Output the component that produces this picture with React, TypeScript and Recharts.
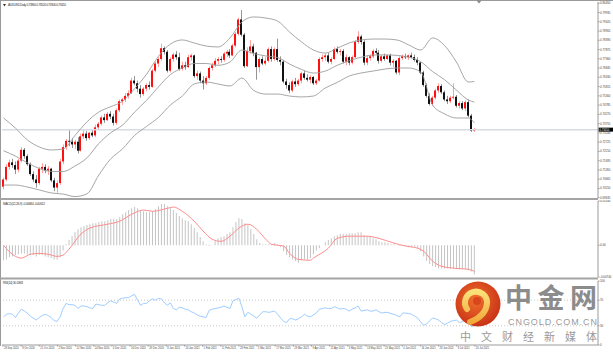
import React from "react";
import { ComposedChart, Bar, Line, XAxis, YAxis, ReferenceLine } from "recharts";

const FONT = '"Liberation Sans", "DejaVu Sans", sans-serif';
const PIP = 10000;

// AUDUSD daily candles, prices in pips (0.0001)
const OPEN = [
  7025, 7065, 7135, 7160, 7145, 7120, 7170, 7230, 7195, 7150, 7095, 7065, 7045, 7125, 7135, 7115, 7125, 7060, 7020, 7045,
  7165, 7245, 7280, 7275, 7260, 7275, 7225, 7305, 7320, 7295, 7325, 7310, 7355, 7375, 7410, 7395, 7430, 7415, 7380, 7450,
  7500, 7510, 7530, 7545, 7615, 7600, 7570, 7540, 7570, 7590, 7580, 7670, 7710, 7735, 7795, 7775, 7670, 7735, 7760, 7745,
  7680, 7700, 7690, 7745, 7755, 7640, 7655, 7615, 7600, 7630, 7685, 7700, 7725, 7735, 7730, 7765, 7775, 7755, 7810, 7875,
  7955, 7870, 7695, 7780, 7805, 7770, 7690, 7735, 7710, 7725, 7790, 7735, 7790, 7730, 7720, 7610, 7590, 7560, 7610, 7595,
  7615, 7655, 7630, 7620, 7635, 7600, 7615, 7735, 7745, 7755, 7720, 7735, 7790, 7775, 7780, 7720, 7745, 7715, 7745, 7830,
  7860, 7830, 7715, 7740, 7750, 7780, 7770, 7725, 7750, 7735, 7755, 7715, 7725, 7660, 7740, 7750, 7745, 7755, 7745, 7730,
  7715, 7660, 7590, 7530, 7485, 7520, 7560, 7585, 7550, 7510, 7500, 7520, 7525, 7475, 7490, 7460, 7495, 7420, 7336,
];
const HIGH = [
  7075, 7150, 7175, 7180, 7165, 7180, 7245, 7240, 7205, 7160, 7110, 7090, 7135, 7155, 7150, 7140, 7130, 7075, 7060, 7180,
  7260, 7290, 7340, 7295, 7285, 7300, 7320, 7340, 7335, 7330, 7345, 7370, 7385, 7420, 7430, 7440, 7445, 7430, 7460, 7510,
  7520, 7545, 7560, 7630, 7640, 7615, 7590, 7580, 7600, 7610, 7680, 7720, 7745, 7820, 7805, 7785, 7745, 7770, 7780, 7770,
  7720, 7720, 7760, 7765, 7760, 7670, 7665, 7640, 7640, 7695, 7715, 7740, 7745, 7750, 7775, 7785, 7790, 7820, 7885, 7965,
  8007, 7880, 7800, 7840, 7820, 7775, 7745, 7750, 7745, 7800, 7805, 7800, 7848, 7750, 7730, 7625, 7605, 7620, 7630, 7625,
  7665, 7670, 7650, 7645, 7640, 7625, 7745, 7760, 7765, 7770, 7745, 7800, 7805, 7790, 7790, 7760, 7750, 7755, 7840, 7890,
  7870, 7840, 7755, 7760, 7790, 7795, 7785, 7760, 7765, 7760, 7765, 7735, 7730, 7750, 7760, 7765, 7760, 7770, 7760, 7745,
  7720, 7670, 7600, 7545, 7530, 7570, 7600, 7595, 7560, 7530, 7530, 7600, 7535, 7500, 7500, 7505, 7510, 7430, 7352,
];
const LOW = [
  7010, 7055, 7120, 7130, 7095, 7105, 7160, 7180, 7140, 7085, 7050, 7020, 7035, 7100, 7100, 7090, 7050, 7000, 6991, 7035,
  7150, 7230, 7250, 7240, 7235, 7210, 7220, 7290, 7280, 7285, 7300, 7300, 7340, 7365, 7380, 7390, 7400, 7365, 7370, 7440,
  7480, 7495, 7515, 7540, 7590, 7550, 7520, 7530, 7555, 7565, 7575, 7660, 7690, 7725, 7760, 7660, 7660, 7720, 7730, 7670,
  7670, 7675, 7685, 7725, 7630, 7620, 7600, 7565, 7590, 7620, 7670, 7690, 7705, 7715, 7720, 7745, 7740, 7750, 7800, 7865,
  7860, 7685, 7690, 7765, 7750, 7620, 7660, 7700, 7700, 7715, 7720, 7725, 7720, 7700, 7600, 7570, 7545, 7550, 7580, 7585,
  7600, 7620, 7610, 7600, 7590, 7590, 7610, 7720, 7725, 7710, 7705, 7730, 7765, 7755, 7710, 7700, 7700, 7705, 7740, 7820,
  7815, 7700, 7700, 7725, 7740, 7760, 7710, 7715, 7725, 7730, 7700, 7690, 7650, 7645, 7730, 7735, 7730, 7740, 7720, 7700,
  7650, 7580, 7520, 7477, 7475, 7510, 7545, 7540, 7500, 7485, 7490, 7510, 7465, 7460, 7450, 7445, 7410, 7330, 7330,
];
const CLOSE = [
  7065, 7135, 7160, 7145, 7120, 7170, 7230, 7195, 7150, 7095, 7065, 7045, 7125, 7135, 7115, 7125, 7060, 7020, 7045, 7165,
  7245, 7280, 7275, 7260, 7275, 7225, 7305, 7320, 7295, 7325, 7310, 7355, 7375, 7410, 7395, 7430, 7415, 7380, 7450, 7500,
  7510, 7530, 7545, 7615, 7600, 7570, 7540, 7570, 7590, 7580, 7670, 7710, 7735, 7795, 7775, 7670, 7735, 7760, 7745, 7680,
  7700, 7690, 7745, 7755, 7640, 7655, 7615, 7600, 7630, 7685, 7700, 7725, 7735, 7730, 7765, 7775, 7755, 7810, 7875, 7955,
  7870, 7695, 7780, 7805, 7770, 7690, 7735, 7710, 7725, 7790, 7735, 7790, 7730, 7720, 7610, 7590, 7560, 7610, 7595, 7615,
  7655, 7630, 7620, 7635, 7600, 7615, 7735, 7745, 7755, 7720, 7735, 7790, 7775, 7780, 7720, 7745, 7715, 7745, 7830, 7860,
  7830, 7715, 7740, 7750, 7780, 7770, 7725, 7750, 7735, 7755, 7715, 7725, 7660, 7740, 7750, 7745, 7755, 7745, 7730, 7715,
  7660, 7590, 7530, 7485, 7520, 7560, 7585, 7550, 7510, 7500, 7520, 7525, 7475, 7490, 7460, 7495, 7420, 7336, 7341,
];

// Bollinger Bands (20, 2) read at every 4th candle
const BAND_AT = [0, 4, 8, 12, 16, 20, 24, 28, 32, 36, 40, 44, 48, 52, 56, 60, 64, 68, 72, 76, 80, 84, 88, 92, 96, 100, 104, 108, 112, 116, 120, 124, 128, 132, 136, 140, 144, 148, 152, 156, 158];
const BB_UPPER = [7407, 7351, 7285, 7246, 7229, 7234, 7310, 7385, 7440, 7470, 7500, 7570, 7650, 7750, 7818, 7841, 7824, 7807, 7802, 7852, 7941, 7969, 7963, 7946, 7885, 7830, 7785, 7768, 7795, 7824, 7841, 7846, 7846, 7841, 7813, 7785, 7852, 7810, 7718, 7607, 7610];
const BB_MIDDLE = [7225, 7195, 7158, 7126, 7110, 7109, 7140, 7185, 7265, 7325, 7368, 7440, 7505, 7580, 7648, 7685, 7710, 7710, 7700, 7718, 7785, 7765, 7752, 7743, 7707, 7677, 7657, 7668, 7700, 7725, 7745, 7757, 7758, 7755, 7745, 7720, 7665, 7620, 7562, 7507, 7495];
const BB_LOWER = [7034, 7034, 7023, 7007, 6990, 6984, 6970, 6985, 7090, 7180, 7236, 7310, 7360, 7410, 7479, 7529, 7596, 7607, 7596, 7585, 7629, 7560, 7540, 7540, 7529, 7524, 7529, 7574, 7605, 7640, 7657, 7668, 7679, 7685, 7685, 7663, 7479, 7430, 7407, 7407, 7380];

// MACD(12,26,9) main, in 0.0001 units, one per candle
const MACD_MAIN = [
  -35, -33, -28, -26, -23, -21, -19, -19, -21, -23, -23, -26, -23, -23, -26, -28, -30, -33, -33, -28,
  -12, 2, 12, 21, 30, 37, 42, 44, 47, 49, 51, 51, 54, 56, 56, 58, 61, 61, 61, 65,
  72, 77, 82, 86, 89, 86, 82, 79, 77, 77, 79, 84, 91, 96, 96, 91, 86, 82, 75, 68,
  63, 58, 56, 49, 40, 30, 19, 9, 2, -2, 0, 9, 16, 19, 21, 26, 30, 42, 54, 63,
  61, 51, 47, 37, 26, 14, 5, 2, 2, 2, 2, 5, 2, -5, -14, -23, -28, -33, -37, -40,
  -35, -33, -33, -30, -21, -12, -7, 0, 7, 12, 16, 21, 23, 26, 26, 26, 28, 28, 28, 30,
  30, 23, 21, 19, 16, 14, 9, 7, 7, 5, 2, 2, 0, -2, -2, -2, -5, -5, -5, -7,
  -14, -26, -37, -44, -49, -51, -54, -54, -54, -54, -54, -54, -56, -56, -56, -56, -58, -61, -68,
];
// signal line, read at these candles
const SIGNAL_AT = [0, 4, 6, 9, 12, 15, 18, 20, 22, 26, 29, 35, 39, 43, 47, 50, 55, 57, 60, 64, 67, 70, 73, 76, 79, 82, 85, 88, 90, 94, 96, 99, 103, 104, 109, 112, 116, 122, 126, 131, 135, 139, 141, 144, 147, 152, 156, 158];
const MACD_SIGNAL = [0, -26, -30, -21, -19, -21, -26, -23, -9, 26, 40, 49, 56, 72, 82, 79, 86, 89, 79, 56, 33, 14, 9, 21, 40, 49, 37, 14, 2, -2, -19, -33, -35, -30, -7, 16, 21, 21, 16, 5, -2, -7, -14, -37, -49, -54, -56, -61];

// RSI(14), one per candle
const RSI = [
  44, 48, 49, 48, 43, 50, 56, 53, 50, 45, 42, 39, 43, 46, 48, 46, 43, 38, 37, 44,
  57, 65, 63, 63, 62, 57, 61, 61, 60, 58, 57, 64, 63, 62, 62, 66, 69, 67, 65, 72,
  73, 74, 74, 77, 79, 70, 62, 65, 65, 69, 72, 70, 73, 72, 66, 62, 66, 57, 55, 59,
  58, 56, 55, 52, 50, 47, 45, 44, 43, 54, 56, 57, 58, 59, 61, 59, 57, 69, 71, 73,
  60, 44, 51, 48, 45, 42, 47, 52, 52, 51, 52, 53, 48, 42, 37, 35, 41, 41, 39, 41,
  44, 48, 45, 44, 47, 50, 56, 57, 58, 57, 57, 60, 58, 56, 57, 56, 53, 56, 58, 61,
  53, 54, 55, 53, 53, 55, 52, 50, 51, 51, 49, 48, 46, 44, 50, 50, 49, 48, 45, 42,
  36, 31, 33, 38, 42, 41, 39, 35, 32, 34, 37, 38, 39, 35, 37, 38, 34, 29, 30,
];

const PRICE_TICKS = [0.8045, 0.79935, 0.7942, 0.78905, 0.7839, 0.77875, 0.7736, 0.76845, 0.7633, 0.75815, 0.753, 0.74785, 0.7427, 0.73755, 0.7324, 0.72725, 0.7221, 0.71695, 0.7118, 0.70665, 0.7015, 0.69635];
const DATE_LABELS = [
  "28 Sep 2020", "8 Oct 2020", "21 Oct 2020", "2 Nov 2020", "12 Nov 2020", "24 Nov 2020", "4 Dec 2020",
  "16 Dec 2020", "29 Dec 2020", "8 Jan 2021", "20 Jan 2021", "1 Feb 2021", "11 Feb 2021", "23 Feb 2021",
  "5 Mar 2021", "17 Mar 2021", "29 Mar 2021", "9 Apr 2021", "21 Apr 2021", "3 May 2021", "13 May 2021",
  "25 May 2021", "4 Jun 2021", "16 Jun 2021", "28 Jun 2021", "8 Jul 2021", "20 Jul 2021",
];
const LABEL_STEP = 6.09;
const DATE_TICKS = DATE_LABELS.map((_, k) => k * LABEL_STEP - 0.17);

const rows = CLOSE.map((c, i) => ({
  i,
  open: OPEN[i] / PIP,
  high: HIGH[i] / PIP,
  low: LOW[i] / PIP,
  close: c / PIP,
  range: [LOW[i] / PIP, HIGH[i] / PIP],
  macd: MACD_MAIN[i],
  rsi: RSI[i],
}));
const band = (vals: number[]) => BAND_AT.map((i, k) => ({ i, v: vals[k] / PIP }));
const signal = SIGNAL_AT.map((i, k) => ({ i, v: MACD_SIGNAL[k] }));
const LAST = CLOSE[CLOSE.length - 1] / PIP;

const X_DOMAIN = [-0.5, 199.5];
const AXIS_GRAY = "#9a9a9a";
const tickStyle = { fontSize: 2.9, fill: "#444", fontFamily: FONT };

function Candle(props: any) {
  const { x, y, width, height, payload } = props;
  if (!payload || x == null) return null;
  const top = Math.min(y, y + height);
  const h = Math.abs(height);
  const { open, close, high, low } = payload;
  const span = high - low || 1;
  const py = (v: number) => top + ((high - v) / span) * h;
  const up = close >= open;
  const bTop = py(Math.max(open, close));
  const bBot = py(Math.min(open, close));
  const left = Math.round(x + width / 2 - 1);
  return (
    <g>
      <rect x={left + 1} y={top} width={0.8} height={Math.max(h, 1)} fill={up ? "#ff8a8a" : "#7a7a7a"} />
      <rect x={left} y={bTop} width={2} height={Math.max(bBot - bTop, 0.8)} fill={up ? "#ff1010" : "#111"} />
    </g>
  );
}

function BidTag(props: any) {
  const vb = props.viewBox || {};
  const x = (vb.x ?? 0) + (vb.width ?? 0);
  const y = vb.y ?? 0;
  return (
    <g>
      <rect x={x + 0.5} y={y - 2.2} width={14.5} height={4} fill="#000" />
      <text x={x + 1.5} y={y + 0.9} fontSize={2.7} fill="#fff" fontFamily={FONT}>{props.text}</text>
    </g>
  );
}

function DateTick(props: any) {
  const { x, y, index } = props;
  return (
    <text x={x + 1} y={y + 1.5} fontSize={2.6} fill="#444" fontFamily={FONT}>
      {DATE_LABELS[index]}
    </text>
  );
}

export default function App() {
  return (
    <div style={{ position: "absolute", left: 0, top: 0, width: 613, height: 353, background: "#fff", overflow: "hidden" }}>
      {/* price pane */}
      <div style={{ position: "absolute", left: 0, top: 0 }}>
        <ComposedChart width={613} height={200} data={rows} margin={{ top: 2, right: 0, bottom: 2, left: 2 }}>
          <XAxis dataKey="i" type="number" domain={X_DOMAIN} allowDataOverflow hide />
          <YAxis
            orientation="right" width={15} domain={[0.6962, 0.8052]} allowDataOverflow
            ticks={PRICE_TICKS} interval={0} tick={tickStyle} tickSize={1.5} tickMargin={0.5}
            tickFormatter={(v: number) => v.toFixed(5)} axisLine={{ stroke: AXIS_GRAY }} tickLine={{ stroke: AXIS_GRAY }}
          />
          <ReferenceLine y={LAST} stroke="#d7dbe2" strokeWidth={1.5} label={<BidTag text={LAST.toFixed(5)} />} />
          <Line data={band(BB_UPPER)} dataKey="v" type="monotone" stroke="#9c9c9c" strokeWidth={0.9} dot={false} isAnimationActive={false} />
          <Line data={band(BB_MIDDLE)} dataKey="v" type="monotone" stroke="#9c9c9c" strokeWidth={0.9} dot={false} isAnimationActive={false} />
          <Line data={band(BB_LOWER)} dataKey="v" type="monotone" stroke="#9c9c9c" strokeWidth={0.9} dot={false} isAnimationActive={false} />
          <Bar dataKey="range" barSize={2} shape={<Candle />} isAnimationActive={false} />
        </ComposedChart>
      </div>

      {/* MACD pane */}
      <div style={{ position: "absolute", left: 0, top: 200 }}>
        <ComposedChart width={613} height={78} data={rows} margin={{ top: 1, right: 0, bottom: 1, left: 2 }}>
          <XAxis dataKey="i" type="number" domain={X_DOMAIN} allowDataOverflow hide />
          <YAxis
            orientation="right" width={15} domain={[-74, 103]} allowDataOverflow ticks={[103, 0, -74]} interval={0}
            tick={tickStyle} tickSize={1.5} tickMargin={0.5}
            tickFormatter={(v: number) => (v === 0 ? "0.00" : (v / PIP).toFixed(5))}
            axisLine={{ stroke: AXIS_GRAY }} tickLine={{ stroke: AXIS_GRAY }}
          />
          <Bar dataKey="macd" barSize={1} fill="#c4c4c4" isAnimationActive={false} />
          <Line data={signal} dataKey="v" type="monotone" stroke="#ff8c8c" strokeWidth={1} dot={false} isAnimationActive={false} />
        </ComposedChart>
      </div>

      {/* RSI pane */}
      <div style={{ position: "absolute", left: 0, top: 279 }}>
        <ComposedChart width={613} height={74} data={rows} margin={{ top: 2, right: 0, bottom: 0, left: 2 }}>
          <XAxis
            dataKey="i" type="number" domain={X_DOMAIN} allowDataOverflow height={8} ticks={DATE_TICKS} interval={0}
            tick={<DateTick />} tickSize={1.5} tickMargin={0.5} axisLine={{ stroke: AXIS_GRAY }} tickLine={{ stroke: AXIS_GRAY }}
          />
          <YAxis
            orientation="right" width={15} domain={[0, 100]} ticks={[100, 70, 30, 0]} interval={0}
            tick={tickStyle} tickSize={1.5} tickMargin={0.5} axisLine={{ stroke: AXIS_GRAY }} tickLine={{ stroke: AXIS_GRAY }}
          />
          <ReferenceLine y={70} stroke="#c8c8c8" strokeDasharray="1 2" />
          <ReferenceLine y={30} stroke="#c8c8c8" strokeDasharray="1 2" />
          <Line dataKey="rsi" type="linear" stroke="#9fcdff" strokeWidth={1} dot={false} isAnimationActive={false} />
        </ComposedChart>
      </div>

      {/* frame, titles and watermark */}
      <svg width={613} height={353} style={{ position: "absolute", left: 0, top: 0, pointerEvents: "none" }}>
        <defs>
          <radialGradient id="logoRed" cx="45%" cy="40%" r="65%">
            <stop offset="0%" stopColor="#f0702c" />
            <stop offset="100%" stopColor="#c62e15" />
          </radialGradient>
          <linearGradient id="logoGold" x1="0" y1="0" x2="0" y2="1">
            <stop offset="0%" stopColor="#fbe07a" />
            <stop offset="100%" stopColor="#f2a93a" />
          </linearGradient>
        </defs>
        <rect x={0} y={0} width={613} height={1} fill={AXIS_GRAY} />
        <rect x={0} y={0} width={1} height={346} fill={AXIS_GRAY} />
        <rect x={0} y={198} width={598} height={2} fill="#a4a4a4" />
        <rect x={0} y={277.5} width={598} height={2} fill="#a4a4a4" />
        <polygon points="476.5,0.5 481.5,0.5 479,3.5" fill="#888" />

        <polygon points="3,4 6,4 4.5,6.5" fill="#333" />
        <text x={8} y={6.2} fontSize={3.2} fill="#333" fontFamily={FONT} textLength={58}>AUDUSD,Daily  0.73360 0.73520 0.73300 0.73410</text>
        <text x={3} y={205} fontSize={3.2} fill="#333" fontFamily={FONT} textLength={42}>MACD(12,26,9) -0.00684 -0.00612</text>
        <text x={3} y={284} fontSize={3.2} fill="#333" fontFamily={FONT} textLength={20}>RSI(14) 30.1843</text>

        <circle cx={478} cy={304} r={22.5} fill="url(#logoRed)" />
        <path d="M 467 309 A 11 11 0 1 1 487 303 Q 486 316 470 322" fill="none" stroke="url(#logoGold)" strokeWidth={6} strokeLinecap="round" />
        <circle cx={477} cy={301} r={4} fill="#d8461c" />
        <text x={505} y={308} fontSize={27} fontWeight="bold" fill="#8c8c8c" fontFamily='"Noto Sans CJK SC", sans-serif' textLength={92}>中金网</text>
        <text x={508} y={325} fontSize={9} fill="#9a9a9a" fontFamily='"Liberation Sans", sans-serif' textLength={89}>CNGOLD.COM.CN</text>
        <text x={460} y={341} fontSize={11} fill="#9a9a9a" fontFamily='"Noto Sans CJK SC", sans-serif' textLength={137}>中文财经新媒体</text>
      </svg>
    </div>
  );
}
